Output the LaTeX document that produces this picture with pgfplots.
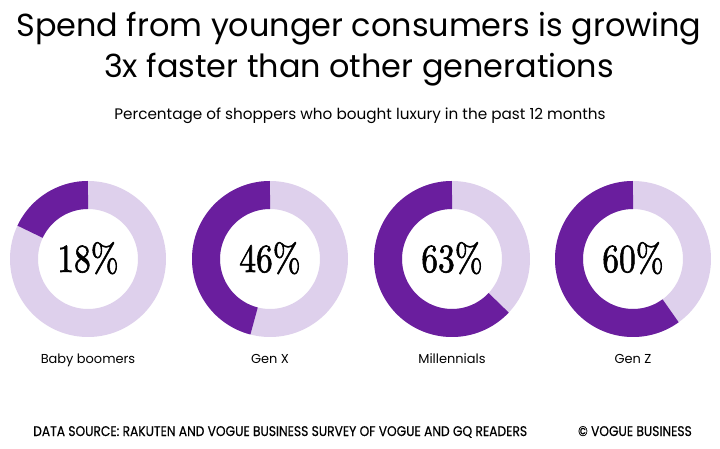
\documentclass[border=0pt]{standalone}
\usepackage{pgfplots}
\pgfplotsset{compat=1.18}
\usepackage{fontspec}
\newfontfamily\pop{Poppins}
\newfontfamily\popn[FakeStretch=0.88,FakeBold=0.4]{Poppins}
\newfontfamily\lmbold[FakeBold=1.6]{lmroman10-regular.otf}
\definecolor{dark}{RGB}{106,30,158}
\definecolor{light}{RGB}{222,208,236}
\newcommand\pct[1]{\scalebox{0.84}[1]{\lmbold\fontsize{40}{40}\selectfont #1}}
\begin{document}
\begin{tikzpicture}
\useasboundingbox (0,0) rectangle (720bp,449bp);
\fill[white] (0,0) rectangle (720bp,449bp);
\begin{axis}[
  at={(0,0)}, anchor=south west,
  scale only axis, width=720bp, height=449bp,
  xmin=0, xmax=720, ymin=0, ymax=449,
  hide axis, clip=false,
]
% rings: centre x, centre y = 190, mid radius 64, thickness 28
% Baby boomers 18
\addplot[light, line width=28bp, domain=0:361, samples=180] ({88+64*cos(x)},{190+64*sin(x)});
\addplot[dark, line width=28bp, domain=90:90+3.6*18, samples=60] ({88+64*cos(x)},{190+64*sin(x)});
% Gen X 46
\addplot[light, line width=28bp, domain=0:361, samples=180] ({270+64*cos(x)},{190+64*sin(x)});
\addplot[dark, line width=28bp, domain=90:90+3.6*46, samples=100] ({270+64*cos(x)},{190+64*sin(x)});
% Millennials 63
\addplot[light, line width=28bp, domain=0:361, samples=180] ({452+64*cos(x)},{190+64*sin(x)});
\addplot[dark, line width=28bp, domain=90:90+3.6*63, samples=120] ({452+64*cos(x)},{190+64*sin(x)});
% Gen Z 60
\addplot[light, line width=28bp, domain=0:361, samples=180] ({633+64*cos(x)},{190+64*sin(x)});
\addplot[dark, line width=28bp, domain=90:90+3.6*60, samples=120] ({633+64*cos(x)},{190+64*sin(x)});

\node[anchor=base] at (axis cs:88,177) {\pct{18\%}};
\node[anchor=base] at (axis cs:270,177) {\pct{46\%}};
\node[anchor=base] at (axis cs:452,177) {\pct{63\%}};
\node[anchor=base] at (axis cs:633,177) {\pct{60\%}};

\node[anchor=base] at (axis cs:88,85) {\pop\fontsize{13}{15}\selectfont Baby boomers};
\node[anchor=base] at (axis cs:270,85) {\pop\fontsize{13}{15}\selectfont Gen X};
\node[anchor=base] at (axis cs:452,85) {\pop\fontsize{13}{15}\selectfont Millennials};
\node[anchor=base] at (axis cs:633,85) {\pop\fontsize{13}{15}\selectfont Gen Z};

\node[anchor=base] at (axis cs:359,412) {\pop\fontsize{32}{36}\selectfont Spend from younger consumers is growing};
\node[anchor=base] at (axis cs:359,371) {\pop\fontsize{32}{36}\selectfont 3x faster than other generations};
\node[anchor=base] at (axis cs:360,329) {\pop\fontsize{15.3}{18}\selectfont Percentage of shoppers who bought luxury in the past 12 months};

\node[anchor=base west, inner sep=0pt] at (axis cs:33,13) {\popn\fontsize{14}{16}\selectfont DATA SOURCE: RAKUTEN AND VOGUE BUSINESS SURVEY OF VOGUE AND GQ READERS};
\node[anchor=base east, inner sep=0pt] at (axis cs:692,13) {\popn\fontsize{14}{16}\selectfont \textcopyright\ VOGUE BUSINESS};
\end{axis}
\end{tikzpicture}
\end{document}
